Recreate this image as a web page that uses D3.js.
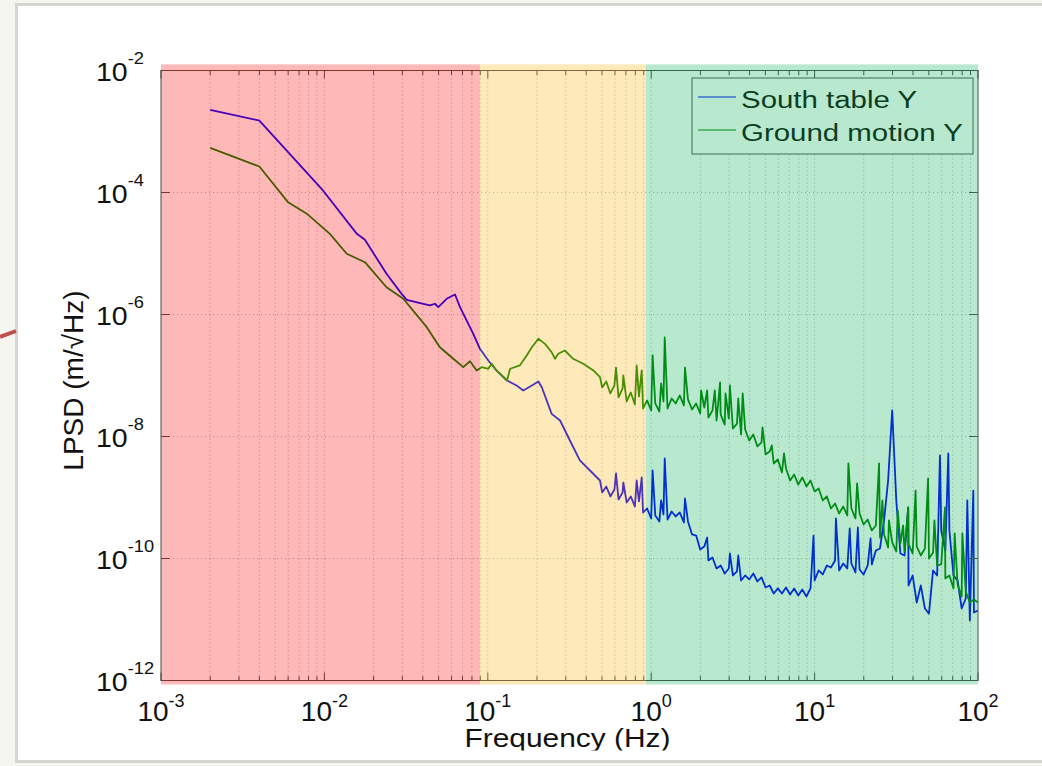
<!DOCTYPE html>
<html><head><meta charset="utf-8">
<script src="https://cdn.jsdelivr.net/npm/d3@7"></script>
<style>body{margin:0;background:#f6f6f0;} svg{display:block;}</style>
</head><body>
<svg id="chart" width="1042" height="766"></svg>
<script>
// ---------------- data ----------------
const seriesNames = ["South table Y", "Ground motion Y"];

// [frequency (Hz), LPSD (m/√Hz)]
const southTable = [
  [0.002,2.27e-3],[0.004,1.51e-3],[0.0098,1.08e-4],[0.0158,2.1e-5],[0.0177,1.68e-5],[0.024,4.65e-6],
  [0.0297,2.18e-6],[0.0319,1.74e-6],[0.0403,1.5e-6],[0.0443,1.41e-6],[0.0475,1.5e-6],[0.0498,1.32e-6],
  [0.056,1.81e-6],[0.063,2.13e-6],[0.0676,1.32e-6],[0.0815,4.83e-7],[0.0895,2.74e-7],[0.1007,1.76e-7],
  [0.113,1.21e-7],[0.131,8.28e-8],[0.150,6.85e-8],[0.165,5.68e-8],[0.186,6.85e-8],[0.204,7.98e-8],
  [0.214,6.43e-8],[0.246,2.35e-8],[0.277,1.83e-8],[0.318,8.6e-9],[0.366,4.05e-9],[0.422,2.77e-9],[0.486,1.9e-9],
  [0.5012,1.21e-9],[0.5309,1.515e-9],[0.5623,1.04e-9],[0.5957,1.35e-9],[0.609,2.48e-9],[0.631,9.29e-10],
  [0.6683,1.21e-9],[0.675,1.76e-9],[0.7079,8.29e-10],[0.7499,1.04e-9],[0.7943,7.13e-10],[0.815,1.9e-9],
  [0.8414,8.61e-10],[0.875,2.13e-9],[0.8913,5.68e-10],[0.9441,6.61e-10],
  [1.0,4.53e-10],[1.02,2.77e-9],[1.059,5.08e-10],[1.122,4.05e-10],[1.15,8.94e-10],[1.189,5.27e-10],
  [1.21,4.36e-9],[1.259,4.36e-10],[1.334,5.9e-10],[1.413,4.89e-10],[1.496,5.68e-10],[1.585,3.9e-10],
  [1.61,9.63e-10],[1.679,4.05e-10],[1.778,2.48e-10],[1.884,2.38e-10],[1.995,1.405e-10],[2.113,1.57e-10],
  [2.2,2.21e-10],[2.239,9.29e-11],[2.371,1.04e-10],[2.512,6.87e-11],[2.661,7.69e-11],[2.818,5.68e-11],
  [2.985,6.87e-11],[3.03,1.21e-10],[3.162,5.27e-11],[3.35,6.13e-11],[3.41,1.12e-10],[3.548,4.36e-11],
  [3.758,5.27e-11],[3.981,4.53e-11],[4.217,5.68e-11],[4.467,4.2e-11],[4.732,4.89e-11],[5.012,3.35e-11],
  [5.309,3.61e-11],[5.623,2.67e-11],[5.957,3.23e-11],[6.31,2.67e-11],[6.683,3.35e-11],[7.079,2.57e-11],
  [7.499,3.23e-11],[7.943,2.48e-11],[8.414,3.11e-11],[8.913,2.38e-11],[9.441,3.23e-11],[9.85,2.38e-10],
  [10,4.36e-11],[10.59,6.37e-11],[11.22,5.47e-11],[11.89,7.69e-11],[12.59,7.13e-11],[13.34,9.29e-11],
  [13.5,4.53e-10],[14.13,6.37e-11],[14.96,8.29e-11],[15.85,6.87e-11],[16.4,3.11e-10],[16.79,8.29e-11],
  [17.78,5.9e-11],[18.4,3.23e-10],[18.84,6.61e-11],[19.95,5.47e-11],[21.13,7.69e-11],[22.0,2.13e-10],
  [22.39,7.99e-11],[23.71,1.35e-10],[25.12,1.46e-10],[26.61,4.2e-10],[28.18,1.9e-9],[29.85,2.67e-8],
  [31.62,8.94e-10],[33.5,1.21e-10],[35.48,1.12e-10],[37.4,6.87e-10],[37.58,3.61e-11],[39.81,5.27e-11],
  [42.17,1.9e-11],[44.67,3.61e-11],[47.32,1.515e-11],[50.12,1.25e-11],[53.09,6.37e-11],[56.23,5.27e-11],
  [58.5,4.89e-9],[59.57,2.88e-10],[63.1,1.35e-10],[65.8,5.27e-9],[66.83,2.88e-10],[70.79,5.27e-11],
  [74.99,4.36e-11],[79.43,1.515e-11],[84.14,2.21e-11],[86,8.94e-10],[89.13,9.63e-12],[93.6,1.3e-9],
  [94.41,1.3e-11],[100,1.405e-11]
];

const groundTable = [
  [0.002,5.4e-4],[0.004,2.67e-4],[0.006,6.9e-5],[0.0078,4.5e-5],[0.0108,2.1e-5],[0.0137,9.9e-6],
  [0.0177,7.2e-6],[0.024,2.8e-6],[0.0304,1.81e-6],[0.0423,6.2e-7],[0.0509,2.9e-7],[0.0615,1.88e-7],
  [0.0708,1.37e-7],[0.0778,1.71e-7],[0.0855,1.21e-7],[0.0918,1.37e-7],[0.1007,1.29e-7],[0.1057,1.56e-7],
  [0.113,1.21e-7],[0.131,8.28e-8],[0.137,1.29e-7],[0.157,1.46e-7],[0.173,2.13e-7],[0.186,2.9e-7],
  [0.204,4.0e-7],[0.224,3.3e-7],[0.246,2.4e-7],[0.258,1.88e-7],[0.270,2.27e-7],[0.296,2.57e-7],
  [0.333,1.88e-7],[0.384,1.56e-7],[0.443,1.21e-7],[0.486,9.4e-8],
  [0.5012,6.37e-8],[0.5309,7.99e-8],[0.5623,5.08e-8],[0.5957,6.87e-8],[0.609,1.35e-7],[0.631,4.36e-8],
  [0.6683,6.13e-8],[0.675,1.0e-7],[0.7079,3.75e-8],[0.7499,5.27e-8],[0.7943,3.35e-8],[0.815,1.46e-7],
  [0.8414,4.53e-8],[0.875,1.21e-7],[0.8913,2.88e-8],[0.9441,3.9e-8],
  [1.0,2.67e-8],[1.02,2.13e-7],[1.059,3.48e-8],[1.122,2.57e-8],[1.15,7.41e-8],[1.189,3.75e-8],
  [1.21,4.2e-7],[1.259,2.88e-8],[1.334,4.2e-8],[1.413,3.48e-8],[1.496,4.71e-8],[1.585,3.23e-8],
  [1.61,1.35e-7],[1.679,4.05e-8],[1.778,2.77e-8],[1.884,3.48e-8],[1.995,2.38e-8],[2.02,5.68e-8],
  [2.113,2.99e-8],[2.2,5.68e-8],[2.239,2.05e-8],[2.371,2.67e-8],[2.45,5.68e-8],[2.512,1.83e-8],
  [2.64,7.69e-8],[2.661,2.3e-8],[2.818,1.57e-8],[2.85,5.08e-8],[2.985,1.97e-8],[3.03,6.87e-8],
  [3.162,1.35e-8],[3.35,1.63e-8],[3.41,4.2e-8],[3.548,1.08e-8],[3.63,5.08e-8],[3.758,1.3e-8],
  [3.981,8.61e-9],[4.217,1.08e-8],[4.467,6.87e-9],[4.732,7.99e-9],[4.8,1.41e-8],[5.012,5.08e-9],
  [5.309,5.68e-9],[5.47,7.13e-9],[5.623,3.61e-9],[5.957,4.2e-9],[6.31,2.57e-9],[6.5,5.27e-9],
  [6.683,2.99e-9],[7.079,1.9e-9],[7.499,2.38e-9],[7.943,1.63e-9],[8.414,2.13e-9],[8.913,1.515e-9],
  [9.441,1.9e-9],
  [10,1.254e-9],[10.59,1.405e-9],[11.22,8.94e-10],[11.89,1.04e-9],[12.59,6.61e-10],[13.34,7.99e-10],
  [14.13,5.47e-10],[14.96,7.13e-10],[15.85,5.08e-10],[16.1,3.61e-9],[16.79,6.61e-10],[17.78,4.53e-10],
  [18.2,1.7e-9],[18.84,5.47e-10],[19.95,3.61e-10],[21.13,4.36e-10],[22.39,2.88e-10],[23.71,3.48e-10],
  [24.8,3.61e-9],[25.12,2.21e-10],[26,8.94e-10],[26.61,2.48e-10],[28.18,1.515e-10],[28.5,4.2e-10],
  [29.85,1.83e-10],[31.62,1.3e-10],[32.3,6.13e-10],[33.5,1.76e-10],[34.8,3.48e-10],[35.48,1.3e-10],
  [37.4,6.87e-10],[37.58,1.7e-10],[39.81,1.21e-10],[41.5,1.3e-9],[42.17,1.57e-10],[44.67,1.12e-10],
  [47.32,1.46e-10],[49.5,2.05e-9],[50.12,1.0e-10],[53.09,1.25e-10],[54.1,4.2e-10],[56.23,7.69e-11],
  [59.57,7.99e-11],[62.8,6.87e-10],[63.1,4.71e-11],[66.83,5.27e-11],[70.79,3.23e-11],[72,2.57e-10],
  [74.99,3.75e-11],[79.43,2.38e-11],[80.2,2.57e-10],[84.14,2.88e-11],[89.13,1.9e-11],[94.41,2.13e-11],
  [100,1.9e-11]
];

const xTickValues = [1e-3, 1e-2, 1e-1, 1, 10, 100];
const xTickExps = ["-3", "-2", "-1", "0", "1", "2"];
const yTickValues = [1e-2, 1e-4, 1e-6, 1e-8, 1e-10, 1e-12];
const yTickExps = ["-2", "-4", "-6", "-8", "-10", "-12"];

// highlighted frequency bands (Hz) and their vertical extent (m/√Hz)
const bandFrom = [1e-3, 0.0895, 0.93];
const bandTo = [0.0895, 0.93, 100];
const bandValTop = 1.26e-2, bandValBottom = 8.6e-13;

// ---------------- styles ----------------
const seriesColors = ["#0000ff", "#008000"];
const bandColors = ["rgba(255,0,0,0.28)", "rgba(250,178,20,0.29)", "rgba(0,176,80,0.28)"];
const FONT = "'Liberation Sans', Arial, sans-serif";

const svg = d3.select("#chart");
const defs = svg.append("defs");

// slide card
svg.append("rect").attr("x", 15).attr("y", 3).attr("width", 1040).attr("height", 760).attr("fill", "#d6d6d0");
svg.append("rect").attr("x", 18).attr("y", 6).attr("width", 1040).attr("height", 754).attr("fill", "#ffffff");
svg.append("line").attr("x1", 0).attr("y1", 337).attr("x2", 16).attr("y2", 331)
  .attr("stroke", "#c0504d").attr("stroke-width", 4);

const x = d3.scaleLog().domain([1e-3, 100]).range([161, 978]);
const y = d3.scaleLog().domain([1e-12, 1e-2]).range([680.5, 70.5]);
const [x0, x1] = x.range();
const [yb, yt] = y.range();

defs.append("clipPath").attr("id", "plotclip").append("rect")
  .attr("x", x0).attr("y", yt).attr("width", x1 - x0).attr("height", yb - yt);
defs.append("clipPath").attr("id", "xlabclip").append("rect")
  .attr("x", 0).attr("y", 0).attr("width", 1042).attr("height", 750.5);

const plot = svg.append("g");

// grid
const gridColor = "#9a9a9a";
const xGrid = x.ticks().filter(v => v > 1e-3 * 1.0001 && v < 100 * 0.9999);
plot.append("g").selectAll("line").data(xGrid).join("line")
  .attr("x1", d => x(d)).attr("x2", d => x(d)).attr("y1", yt).attr("y2", yb)
  .attr("stroke", gridColor).attr("stroke-width", 0.8).attr("stroke-dasharray", "1,3");
plot.append("g").selectAll("line").data(yTickValues.slice(1, -1)).join("line")
  .attr("x1", x0).attr("x2", x1).attr("y1", d => y(d)).attr("y2", d => y(d))
  .attr("stroke", gridColor).attr("stroke-width", 0.8).attr("stroke-dasharray", "1,3");

// series
const line = d3.line().x(d => x(d[0])).y(d => y(d[1]));
const series = [southTable, groundTable];
const lines = plot.append("g").attr("clip-path", "url(#plotclip)");
series.forEach((s, i) => {
  lines.append("path").datum(s).attr("d", line)
    .attr("fill", "none").attr("stroke", seriesColors[i]).attr("stroke-width", 1.8)
    .attr("stroke-linejoin", "round");
});

// axes box and ticks
const axisColor = "#4a4a4a";
plot.append("rect").attr("x", x0).attr("y", yt).attr("width", x1 - x0).attr("height", yb - yt)
  .attr("fill", "none").attr("stroke", axisColor).attr("stroke-width", 1);
const xAll = x.ticks();
const isMajor = v => Math.abs(Math.log10(v) - Math.round(Math.log10(v))) < 1e-6;
plot.append("g").selectAll("line").data(xAll).join("line")
  .attr("x1", d => x(d)).attr("x2", d => x(d)).attr("y1", yb).attr("y2", d => yb - (isMajor(d) ? 8 : 4.5))
  .attr("stroke", axisColor);
plot.append("g").selectAll("line").data(xAll).join("line")
  .attr("x1", d => x(d)).attr("x2", d => x(d)).attr("y1", yt).attr("y2", d => yt + (isMajor(d) ? 8 : 4.5))
  .attr("stroke", axisColor);
plot.append("g").selectAll("line").data(yTickValues).join("line")
  .attr("x1", x0).attr("x2", x0 + 9).attr("y1", d => y(d)).attr("y2", d => y(d)).attr("stroke", axisColor);
plot.append("g").selectAll("line").data(yTickValues).join("line")
  .attr("x1", x1).attr("x2", x1 - 9).attr("y1", d => y(d)).attr("y2", d => y(d)).attr("stroke", axisColor);

// legend
const lg = plot.append("g");
lg.append("rect").attr("x", 692).attr("y", 78).attr("width", 281).attr("height", 76)
  .attr("fill", "#ffffff").attr("stroke", "#555").attr("stroke-width", 1);
seriesNames.forEach((name, i) => {
  const ly = 97 + i * 33;
  lg.append("line").attr("x1", 698).attr("x2", 736).attr("y1", ly).attr("y2", ly)
    .attr("stroke", seriesColors[i]).attr("stroke-width", 1.2);
  lg.append("g").attr("transform", `translate(741,${ly + 11}) scale(1.28,1)`)
    .append("text").attr("font-family", FONT).attr("font-size", 23).attr("fill", "#111")
    .text(name);
});

// colored frequency bands (overlay)
plot.append("g").selectAll("rect").data(d3.range(bandFrom.length)).join("rect")
  .attr("x", i => x(bandFrom[i])).attr("width", i => x(bandTo[i]) - x(bandFrom[i]))
  .attr("y", y(bandValTop)).attr("height", y(bandValBottom) - y(bandValTop))
  .attr("fill", i => bandColors[i]);

// tick labels
function powLabel(parent, px, py, exp, size, supSize, supRise, sx, anchor) {
  const t = parent.append("g").attr("transform", `translate(${px},${py}) scale(${sx},1)`)
    .append("text").attr("font-family", FONT).attr("font-size", size).attr("fill", "#111")
    .attr("text-anchor", anchor);
  t.append("tspan").text("10");
  t.append("tspan").attr("font-size", supSize).attr("dy", -supRise).text(exp);
}
xTickValues.forEach((v, i) => powLabel(svg, x(v), 720.5, xTickExps[i], 28, 18, 14, 1.0, "middle"));
yTickValues.forEach((v, i) => powLabel(svg, 96, y(v) + 10.5, yTickExps[i], 25, 16, 17, 1.14, "start"));

// axis titles
svg.append("g").attr("clip-path", "url(#xlabclip)")
  .append("g").attr("transform", `translate(${(x0 + x1) / 2 - 2},747) scale(1.15,1)`)
  .append("text").attr("font-family", FONT).attr("font-size", 26).attr("fill", "#111")
  .attr("text-anchor", "middle").text("Frequency (Hz)");
svg.append("text").attr("transform", `translate(83,${(yt + yb) / 2 + 5}) rotate(-90)`)
  .attr("font-family", FONT).attr("font-size", 28).attr("fill", "#111")
  .attr("text-anchor", "middle").text("LPSD (m/\u221AHz)");
</script>
</body></html>
